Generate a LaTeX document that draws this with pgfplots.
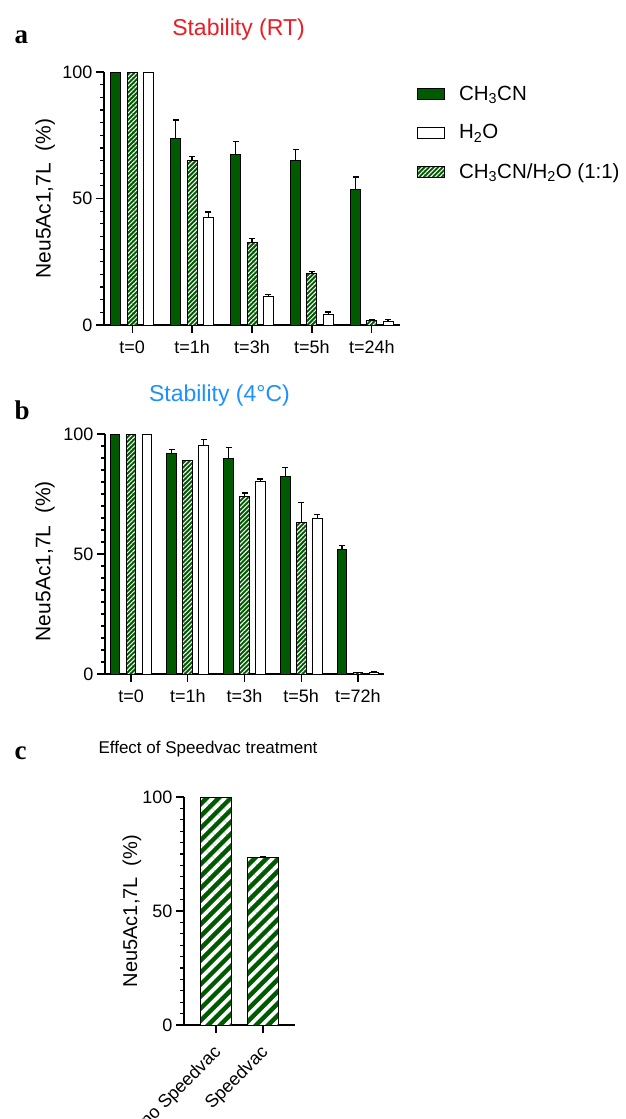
\documentclass[border=0pt]{standalone}
\usepackage{fontspec}
\setmainfont{Liberation Sans}
\newfontfamily\letterfont{Liberation Serif}
\usepackage{pgfplots}
\pgfplotsset{compat=1.18}
\usetikzlibrary{patterns.meta}
\definecolor{cgreen}{RGB}{0,90,0}
\definecolor{cred}{RGB}{235,28,36}
\definecolor{cblue}{RGB}{30,144,255}

\pgfplotsset{
  panel/.style={
    scale only axis, axis lines=left, axis line style={-, line width=1.3pt},
    ymin=0, ymax=100, ytick={0,50,100}, minor ytick={5,10,...,95},
    tick align=outside, major tick length=8pt, minor tick length=4pt,
    tick style={black, line width=1.2pt},
    clip=false,
    /pgf/number format/assume math mode=true,
    ticklabel style={font=\fontsize{18}{21}\selectfont},
    xticklabel style={yshift=-4pt},
    ylabel style={font=\fontsize{21}{24}\selectfont, anchor=center},
  },
  bar0/.style={ybar, bar shift=0pt, draw=black, line width=1pt},
  bars/.style={bar0,
    error bars/y dir=plus, error bars/y explicit,
    error bars/error bar style={black, line width=1.3pt},
    error bars/error mark options={rotate=90, black, mark size=3pt, line width=1.3pt}},
  hatch/.style={fill=cgreen, postaction={pattern={Lines[angle=45, distance=3.2pt, line width=1pt]}, pattern color=white}},
}

\begin{document}
\begin{tikzpicture}
\useasboundingbox (0,0) rectangle (625pt,-1119pt);

% ---- panel a
\node[anchor=base west, font=\letterfont\bfseries\fontsize{27}{30}\selectfont] at (11pt,-43pt) {a};
\node[anchor=base, text=cred, font=\fontsize{23}{26}\selectfont] at (238.5pt,-35pt) {Stability (RT)};
\begin{axis}[panel, at={(104pt,-325pt)}, anchor=south west,
  width=296pt, height=253pt, xmin=-0.47, xmax=4.47, bar width=10pt,
  xtick={0,1,2,3,4}, xticklabels={t=0,t=1h,t=3h,t=5h,t=24h},
  ylabel={Neu5Ac1,7L\ \ (\%)},
  ylabel style={at={(axis description cs:-0.199,0.5)}},
  legend style={at={(axis description cs:1.048,0.962)}, anchor=north west,
    draw=none, fill=none, font=\fontsize{20.5}{23}\selectfont, row sep=19pt},
  legend cell align=left,
  legend image code/.code={\draw[#1, line width=1pt] (0pt,-5.5pt) rectangle (27pt,5.5pt); \path (39pt,0pt);},
]
\addlegendimage{fill=cgreen, draw=black}
\addlegendentry{CH\textsubscript{3}CN}
\addlegendimage{fill=white, draw=black}
\addlegendentry{H\textsubscript{2}O}
\addlegendimage{hatch, draw=black}
\addlegendentry{CH\textsubscript{3}CN/H\textsubscript{2}O (1:1)}
% t=0 (no error bars)
\addplot[bar0, fill=cgreen, forget plot] coordinates {(-0.2717,100)};
\addplot[bar0, hatch, forget plot] coordinates {(0,100)};
\addplot[bar0, fill=white, forget plot] coordinates {(0.2717,100)};
% CH3CN
\addplot[bars, fill=cgreen, forget plot] table[x expr=\thisrow{t}-0.2717, y=v, y error=e, row sep=\\] {
t v e\\ 1 73.9 7.1\\ 2 67.3 5.3\\ 3 65.0 4.3\\ 4 53.7 4.8\\};
% CH3CN/H2O
\addplot[bars, hatch, forget plot] table[x=t, y=v, y error=e, row sep=\\] {
t v e\\ 1 65.0 1.5\\ 2 32.7 1.6\\ 3 20.3 0.9\\ 4 1.7 0.3\\};
% H2O
\addplot[bars, fill=white, forget plot] table[x expr=\thisrow{t}+0.2717, y=v, y error=e, row sep=\\] {
t v e\\ 1 42.3 2.4\\ 2 11.2 0.9\\ 3 4.1 1.0\\ 4 1.3 0.8\\};
\end{axis}

% ---- panel b
\node[anchor=base west, font=\letterfont\bfseries\fontsize{27}{30}\selectfont] at (11pt,-419pt) {b};
\node[anchor=base, text=cblue, font=\fontsize{23}{26}\selectfont] at (219.5pt,-401.7pt) {Stability (4°C)};
\begin{axis}[panel, at={(105pt,-674pt)}, anchor=south west,
  width=279pt, height=240pt, xmin=-0.46, xmax=4.46, bar width=9.7pt,
  xtick={0,1,2,3,4}, xticklabels={t=0,t=1h,t=3h,t=5h,t=72h},
  ylabel={Neu5Ac1,7L\ \ (\%)},
  ylabel style={at={(axis description cs:-0.215,0.47)}},
]
% no visible error bars
\addplot[bar0, fill=cgreen] coordinates {(-0.282,100)};
\addplot[bar0, hatch] coordinates {(0,100) (1,89.0) (4,0.6)};
\addplot[bar0, fill=white] coordinates {(0.282,100)};
% CH3CN
\addplot[bars, fill=cgreen] table[x expr=\thisrow{t}-0.282, y=v, y error=e, row sep=\\] {
t v e\\ 1 91.9 1.6\\ 2 90.0 4.4\\ 3 82.4 3.7\\ 4 51.8 1.7\\};
% CH3CN/H2O
\addplot[bars, hatch] table[x=t, y=v, y error=e, row sep=\\] {
t v e\\ 2 74.0 1.4\\ 3 63.3 8.1\\};
% H2O
\addplot[bars, fill=white] table[x expr=\thisrow{t}+0.282, y=v, y error=e, row sep=\\] {
t v e\\ 1 95.4 2.4\\ 2 80.4 0.9\\ 3 65.0 1.4\\ 4 0.6 0.2\\};
\end{axis}

% ---- panel c
\node[anchor=base west, font=\letterfont\bfseries\fontsize{27}{30}\selectfont] at (11pt,-759pt) {c};
\node[anchor=base, font=\fontsize{17}{20}\selectfont] at (208pt,-753pt) {Effect of Speedvac treatment};
\begin{axis}[panel, at={(184pt,-1025pt)}, anchor=south west,
  width=111pt, height=228pt, xmin=-0.68, xmax=1.68, bar width=31.7pt,
  xtick={0,1}, xticklabels={no Speedvac,Speedvac},
  xticklabel style={rotate=45, anchor=north east, yshift=1pt, xshift=-4pt},
  ylabel={Neu5Ac1,7L\ \ (\%)},
  ylabel style={at={(axis description cs:-0.468,0.5)}, font=\fontsize{20}{23}\selectfont},
]
\addplot[bar0, fill=cgreen,
  postaction={pattern={Lines[angle=45, distance=8.5pt, line width=3.8pt]}, pattern color=white}]
  coordinates {(0,100)};
\addplot[bars, fill=cgreen,
  postaction={pattern={Lines[angle=45, distance=8.5pt, line width=3.8pt]}, pattern color=white}]
  coordinates {(1,73.4) +- (0,0.6)};
\end{axis}
\end{tikzpicture}
\end{document}
